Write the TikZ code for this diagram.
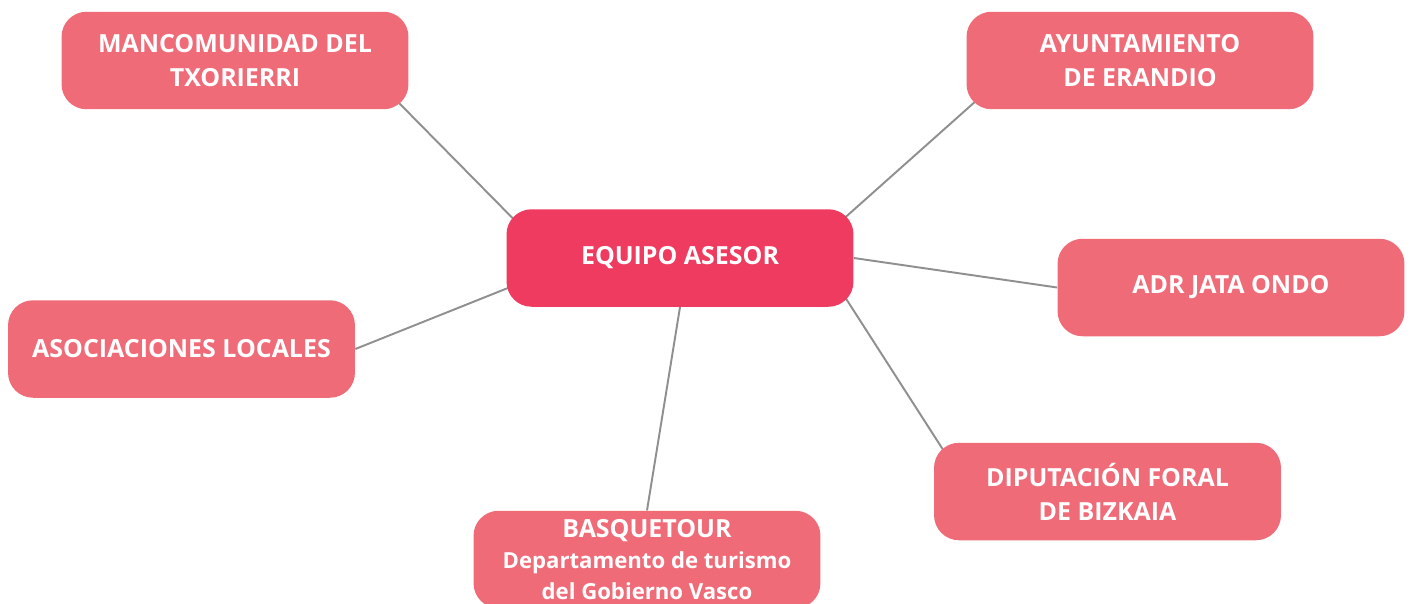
\documentclass[tikz,border=0pt]{standalone}
\usepackage{fontspec}
\setmainfont{Open Sans}
\usetikzlibrary{calc,backgrounds}
\definecolor{boxlight}{HTML}{F06B78}
\definecolor{boxdark}{HTML}{EE3B5F}
\definecolor{linkgrey}{HTML}{8F8F8F}
\tikzset{
  org/.style={fill=boxlight, rounded corners=0.5cm, minimum width=6.94cm, minimum height=1.95cm,
    text=white, font=\bfseries\fontsize{14.2}{19.3}\selectfont, align=center, inner sep=0pt},
  hub/.style={org, fill=boxdark},
  link/.style={draw=linkgrey, line width=1.1pt}
}
\begin{document}
\begin{tikzpicture}[x=0.02cm,y=-0.02cm]
\useasboundingbox (0,0) rectangle (1410,603);
\begin{scope}
\clip (0,0) rectangle (1410,603);
\node[org] (manc) at (235,60.5) {MANCOMUNIDAD DEL\\TXORIERRI};
\node[org] (ayto) at (1140,60.5) {AYUNTAMIENTO\\DE ERANDIO};
\node[hub] (eq) at (680,258) {EQUIPO ASESOR};
\node[org] (adr) at (1231,287.5) {ADR JATA ONDO};
\node[org] (asoc) at (181.5,349) {ASOCIACIONES LOCALES};
\node[org] (dip) at (1107.5,491.5) {DIPUTACIÓN FORAL\\DE BIZKAIA};
\node[org, font=\bfseries\fontsize{12.6}{17.6}\selectfont] (bq) at (647,559.5) {{\fontsize{14.2}{17.6}\selectfont BASQUETOUR}\\Departamento de turismo\\del Gobierno Vasco};
\end{scope}
\begin{scope}[on background layer]
\draw[link] ($(manc.south east)+(-23,-20)$) -- ($(eq.north west)+(21,24)$);
\draw[link] ($(ayto.south west)+(27,-24)$) -- ($(eq.north east)+(-26,24)$);
\draw[link] (eq.east) -- (adr.west);
\draw[link] (asoc.east) -- ($(eq.south west)+(24,-28)$);
\draw[link] ($(eq.south east)+(-21,-29)$) -- ($(dip.north west)+(22,27)$);
\draw[link] (eq.south) -- (bq.north);
\end{scope}
\end{tikzpicture}
\end{document}
